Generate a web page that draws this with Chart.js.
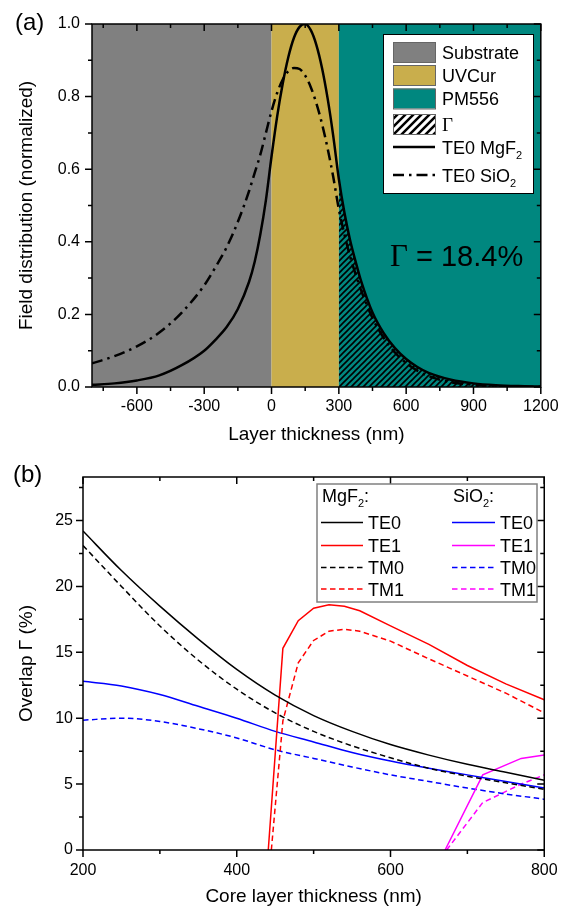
<!DOCTYPE html>
<html>
<head>
<meta charset="utf-8">
<script src="https://cdn.jsdelivr.net/npm/chart.js@4.4.1/dist/chart.umd.min.js"></script>
<style>
  html, body { margin: 0; padding: 0; background: #fff; }
  #wrap { position: relative; width: 569px; height: 907px; }
  #wrap canvas { position: absolute; left: 0; }
</style>
</head>
<body>
<div id="wrap">
  <canvas id="chartA" width="569" height="455" style="top:0"></canvas>
  <canvas id="chartB" width="569" height="452" style="top:455px"></canvas>
</div>
<script>
// ---- panel (a): field profile ----
var layerX = [-800, -700, -600, -500, -400, -300, -250, -200, -150, -100, -75, -50, -25, 0,
              25, 50, 75, 100, 125, 150, 175, 200, 225, 250, 275, 300,
              325, 350, 375, 400, 450, 500, 550, 600, 650, 700, 800, 900, 1000, 1100, 1200];
var fieldMgF2 = [0.006, 0.010, 0.018, 0.032, 0.060, 0.100, 0.130, 0.165, 0.215, 0.290, 0.345, 0.420, 0.515, 0.635,
                 0.745, 0.836, 0.909, 0.962, 0.992, 1.000, 0.983, 0.942, 0.879, 0.795, 0.692, 0.573,
                 0.480, 0.405, 0.345, 0.290, 0.205, 0.148, 0.107, 0.077, 0.055, 0.039, 0.020, 0.010, 0.005, 0.0025, 0.0012];
var fieldSiO2 = [0.065, 0.085, 0.112, 0.150, 0.205, 0.280, 0.330, 0.385, 0.455, 0.540, 0.590, 0.640, 0.700, 0.760,
                 0.810, 0.847, 0.870, 0.879, 0.876, 0.858, 0.826, 0.781, 0.725, 0.657, 0.579, 0.490,
                 0.420, 0.360, 0.310, 0.265, 0.190, 0.135, 0.095, 0.066, 0.045, 0.030, 0.013, 0.006, 0.0025, 0.001, 0.0005];
var layerEdges = [-800, 0, 300, 1200];
var layerNames = ['Substrate', 'UVCur', 'PM556'];
var layerColors = ['#808080', '#C9AE4C', '#00877F'];
var overlapText = '= 18.4%';
var xTicksA = [-600, -300, 0, 300, 600, 900, 1200];
var xMinorA = [-750, -450, -150, 150, 450, 750, 1050];
var yTicksA = [0, 0.2, 0.4, 0.6, 0.8, 1.0];
var yMinorA = [0.1, 0.3, 0.5, 0.7, 0.9];

// ---- panel (b): overlap vs core thickness ----
var coreX = [200, 250, 300, 350, 400, 450, 500, 550, 600, 650, 700, 750, 800];
var te0MgF2 = [24.2, 21.2, 18.5, 16.0, 13.7, 11.75, 10.2, 9.0, 8.0, 7.2, 6.5, 5.9, 5.3];
var tm0MgF2 = [23.1, 20.0, 17.0, 14.4, 12.2, 10.4, 9.0, 7.9, 7.0, 6.2, 5.6, 5.1, 4.6];
var te0SiO2 = [12.8, 12.45, 11.8, 10.9, 10.0, 9.0, 8.2, 7.4, 6.75, 6.2, 5.7, 5.2, 4.7];
var tm0SiO2 = [9.85, 10.0, 9.75, 9.2, 8.5, 7.6, 6.95, 6.3, 5.7, 5.2, 4.7, 4.25, 3.85];
var te1MgF2X = [441, 460, 480, 500, 520, 540, 560, 600, 650, 700, 750, 800];
var te1MgF2 = [0, 15.3, 17.4, 18.35, 18.6, 18.5, 18.15, 17.0, 15.6, 14.0, 12.6, 11.4];
var tm1MgF2X = [445, 460, 480, 500, 520, 540, 560, 600, 650, 700, 750, 800];
var tm1MgF2 = [0, 9.8, 14.2, 15.9, 16.6, 16.75, 16.6, 15.85, 14.5, 13.2, 11.9, 10.4];
var te1SiO2X = [671, 720, 770, 800];
var te1SiO2 = [0, 5.7, 6.95, 7.2];
var tm1SiO2X = [673, 720, 770, 800];
var tm1SiO2 = [0, 3.6, 5.0, 5.7];
var xTicksB = [200, 400, 600, 800];
var xMinorB = [300, 500, 700];
var yTicksB = [0, 5, 10, 15, 20, 25];
var yMinorB = [2.5, 7.5, 12.5, 17.5, 22.5, 27.5];

var SANS = '"Liberation Sans", Arial, sans-serif';
var SERIF = '"Liberation Serif", "Times New Roman", serif';
Chart.defaults.font.family = SANS;
Chart.defaults.color = '#000';

function pts(xs, ys) {
    return xs.map(function(x, i) { return {x: x, y: ys[i]}; });
}

function hatch(bg, gap, lw) {
    var c = document.createElement('canvas');
    c.width = gap; c.height = gap;
    var g = c.getContext('2d');
    if (bg) { g.fillStyle = bg; g.fillRect(0, 0, gap, gap); }
    g.strokeStyle = '#000';
    g.lineWidth = lw;
    g.beginPath();
    g.moveTo(-1, gap + 1); g.lineTo(gap + 1, -1);
    g.moveTo(-2, 2); g.lineTo(2, -2);
    g.moveTo(gap - 2, gap + 2); g.lineTo(gap + 2, gap - 2);
    g.stroke();
    return document.createElement('canvas').getContext('2d').createPattern(c, 'repeat');
}

// text with subscripts: parts = [[text, isSub, family], ...]
function textRun(ctx, x, y, parts, size, family) {
    ctx.textAlign = 'left';
    ctx.textBaseline = 'alphabetic';
    parts.forEach(function(p) {
        var s = p[1] ? Math.round(size * 0.62) : size;
        ctx.font = s + 'px ' + (p[2] || family || SANS);
        ctx.fillText(p[0], x, p[1] ? y + size * 0.3 : y);
        x += ctx.measureText(p[0]).width;
    });
    return x;
}

function sampleLine(ctx, x1, x2, y, color, width, dash) {
    ctx.save();
    ctx.strokeStyle = color;
    ctx.lineWidth = width;
    ctx.setLineDash(dash || []);
    ctx.beginPath();
    ctx.moveTo(x1, y); ctx.lineTo(x2, y);
    ctx.stroke();
    ctx.restore();
}

// frame round the plot area, with ticks out on bottom/left and in on top/right
var frameTicks = {
    id: 'frameTicks',
    afterDatasetsDraw: function(chart, args, o) {
        var ctx = chart.ctx, a = chart.chartArea;
        var sx = chart.scales.x, sy = chart.scales.y;
        ctx.save();
        ctx.strokeStyle = '#000';
        ctx.lineWidth = 1.5;
        ctx.beginPath();
        function xt(list, len) {
            list.forEach(function(v) {
                var p = sx.getPixelForValue(v);
                ctx.moveTo(p, a.bottom); ctx.lineTo(p, a.bottom + len);
                ctx.moveTo(p, a.top); ctx.lineTo(p, a.top + len);
            });
        }
        function yt(list, len) {
            list.forEach(function(v) {
                var p = sy.getPixelForValue(v);
                ctx.moveTo(a.left, p); ctx.lineTo(a.left - len, p);
                ctx.moveTo(a.right, p); ctx.lineTo(a.right - len, p);
            });
        }
        xt(o.xMajor, 7); xt(o.xMinor, 4);
        yt(o.yMajor, 7); yt(o.yMinor, 4);
        ctx.stroke();
        ctx.strokeRect(a.left, a.top, a.right - a.left, a.bottom - a.top);
        ctx.restore();
    }
};

var layerBands = {
    id: 'layerBands',
    beforeDatasetsDraw: function(chart) {
        var ctx = chart.ctx, a = chart.chartArea, sx = chart.scales.x;
        ctx.save();
        for (var i = 0; i < layerNames.length; i++) {
            var x1 = sx.getPixelForValue(layerEdges[i]);
            var x2 = sx.getPixelForValue(layerEdges[i + 1]);
            ctx.fillStyle = layerColors[i];
            ctx.fillRect(x1, a.top, x2 - x1, a.bottom - a.top);
        }
        ctx.restore();
    }
};

var swatchHatch = hatch('#fff', 8, 2.5);
var plotHatch = hatch(null, 6, 1.6);

var overlayA = {
    id: 'overlayA',
    afterDraw: function(chart) {
        var ctx = chart.ctx;
        ctx.save();
        ctx.fillStyle = '#000';
        textRun(ctx, 15, 30, [['(a)', false]], 24);

        // Gamma value
        textRun(ctx, 390, 266, [['\u0393', false, SERIF]], 31);
        ctx.font = '29px ' + SANS;
        ctx.fillText(overlapText, 416, 266);

        // legend
        ctx.fillStyle = '#fff';
        ctx.fillRect(383, 34, 150, 159);
        ctx.strokeStyle = '#000';
        ctx.lineWidth = 1;
        ctx.strokeRect(383.5, 34.5, 150, 159);
        var rows = [52, 75, 98.5, 124];
        for (var i = 0; i < 4; i++) {
            ctx.fillStyle = i < 3 ? layerColors[i] : swatchHatch;
            ctx.fillRect(393, rows[i] - 10, 42, 20);
            ctx.strokeStyle = '#666';
            ctx.strokeRect(393.5, rows[i] - 9.5, 42, 20);
            ctx.fillStyle = '#000';
            if (i < 3) textRun(ctx, 442, rows[i] + 6.5, [[layerNames[i], false]], 18);
            else textRun(ctx, 442, rows[i] + 7, [['\u0393', false, SERIF]], 19);
        }
        sampleLine(ctx, 393, 435, 147, '#000', 2.5);
        sampleLine(ctx, 393, 435, 175, '#000', 2.5, [11, 5, 2.5, 5]);
        ctx.fillStyle = '#000';
        textRun(ctx, 442, 153.5, [['TE0 MgF', false], ['2', true]], 18);
        textRun(ctx, 442, 181.5, [['TE0 SiO', false], ['2', true]], 18);
        ctx.restore();
    }
};

var mgPts = pts(layerX, fieldMgF2);
var siPts = pts(layerX, fieldSiO2);

new Chart(document.getElementById('chartA'), {
    type: 'line',
    data: {
        datasets: [
            {label: 'TE0 MgF2', data: mgPts, borderColor: '#000', borderWidth: 2.5,
             pointRadius: 0, cubicInterpolationMode: 'monotone', fill: false},
            {label: 'TE0 SiO2', data: siPts, borderColor: '#000', borderWidth: 2.5,
             borderDash: [11, 5, 2.5, 5], pointRadius: 0, cubicInterpolationMode: 'monotone', fill: false},
            {label: '\u0393', data: mgPts.filter(function(p) { return p.x >= 300; }),
             borderWidth: 0, borderColor: 'rgba(0,0,0,0)', pointRadius: 0,
             cubicInterpolationMode: 'monotone', fill: 'origin', backgroundColor: plotHatch}
        ]
    },
    options: {
        responsive: false,
        animation: false,
        events: [],
        layout: {padding: {top: 24, right: 27, left: 0, bottom: 0}},
        plugins: {
            legend: {display: false},
            tooltip: {enabled: false},
            frameTicks: {xMajor: xTicksA, xMinor: xMinorA, yMajor: yTicksA, yMinor: yMinorA}
        },
        scales: {
            x: {
                type: 'linear', min: -800, max: 1200,
                afterBuildTicks: function(s) { s.ticks = xTicksA.map(function(v) { return {value: v}; }); },
                afterFit: function(s) { s.height = 68; },
                grid: {display: false, drawTicks: false},
                border: {display: false},
                ticks: {padding: 10.4, font: {size: 16}, maxRotation: 0, autoSkip: false,
                        callback: function(v) { return String(v); }},
                title: {display: true, text: 'Layer thickness (nm)', font: {size: 19, lineHeight: 1},
                        padding: {top: 0, bottom: 10.5}}
            },
            y: {
                type: 'linear', min: 0, max: 1,
                afterBuildTicks: function(s) { s.ticks = yTicksA.map(function(v) { return {value: v}; }); },
                afterFit: function(s) { s.width = 92; },
                grid: {display: false, drawTicks: false},
                border: {display: false},
                ticks: {padding: 12, font: {size: 16}, callback: function(v) { return v.toFixed(1); }},
                title: {display: true, text: 'Field distribution (normalized)', font: {size: 19, lineHeight: 1},
                        padding: {top: 17.5, bottom: 0}}
            }
        }
    },
    plugins: [layerBands, frameTicks, overlayA]
});

// ---- panel (b) ----
var overlayB = {
    id: 'overlayB',
    afterDraw: function(chart) {
        var ctx = chart.ctx;
        ctx.save();
        ctx.fillStyle = '#000';
        textRun(ctx, 13, 27, [['(b)', false]], 24);

        ctx.fillStyle = '#fff';
        ctx.fillRect(317, 29, 220, 118);
        ctx.strokeStyle = '#808080';
        ctx.lineWidth = 1.5;
        ctx.strokeRect(317, 29, 220, 118);

        ctx.fillStyle = '#000';
        textRun(ctx, 322, 46.5, [['MgF', false], ['2', true], [':', false]], 18);
        textRun(ctx, 453, 46.5, [['SiO', false], ['2', true], [':', false]], 18);
        var rows = [67.5, 90.5, 112.5, 134];
        var names = ['TE0', 'TE1', 'TM0', 'TM1'];
        var mgCol = ['#000', '#FF0000', '#000', '#FF0000'];
        var siCol = ['#0000FF', '#FF00FF', '#0000FF', '#FF00FF'];
        for (var i = 0; i < 4; i++) {
            var dash = i >= 2 ? [5.5, 3.5] : [];
            sampleLine(ctx, 321, 363, rows[i], mgCol[i], 1.5, dash);
            sampleLine(ctx, 452, 495, rows[i], siCol[i], 1.5, dash);
            ctx.fillStyle = '#000';
            textRun(ctx, 368, rows[i] + 6.5, [[names[i], false]], 18);
            textRun(ctx, 500, rows[i] + 6.5, [[names[i], false]], 18);
        }
        ctx.restore();
    }
};

function lineSet(label, data, color, dashed, smooth) {
    return {label: label, data: data, borderColor: color, borderWidth: 1.5,
            borderDash: dashed ? [5.5, 3.5] : [], pointRadius: 0, fill: false,
            cubicInterpolationMode: smooth ? 'monotone' : 'default', tension: 0};
}

new Chart(document.getElementById('chartB'), {
    type: 'line',
    data: {
        datasets: [
            lineSet('TE0 MgF2', pts(coreX, te0MgF2), '#000', false, true),
            lineSet('TE1 MgF2', pts(te1MgF2X, te1MgF2), '#FF0000', false, false),
            lineSet('TM0 MgF2', pts(coreX, tm0MgF2), '#000', true, true),
            lineSet('TM1 MgF2', pts(tm1MgF2X, tm1MgF2), '#FF0000', true, false),
            lineSet('TE0 SiO2', pts(coreX, te0SiO2), '#0000FF', false, true),
            lineSet('TE1 SiO2', pts(te1SiO2X, te1SiO2), '#FF00FF', false, false),
            lineSet('TM0 SiO2', pts(coreX, tm0SiO2), '#0000FF', true, true),
            lineSet('TM1 SiO2', pts(tm1SiO2X, tm1SiO2), '#FF00FF', true, false)
        ]
    },
    options: {
        responsive: false,
        animation: false,
        events: [],
        layout: {padding: {top: 22, right: 23, left: 0, bottom: 0}},
        plugins: {
            legend: {display: false},
            tooltip: {enabled: false},
            frameTicks: {xMajor: xTicksB, xMinor: xMinorB, yMajor: yTicksB, yMinor: yMinorB}
        },
        scales: {
            x: {
                type: 'linear', min: 200, max: 800,
                afterBuildTicks: function(s) { s.ticks = xTicksB.map(function(v) { return {value: v}; }); },
                afterFit: function(s) { s.height = 57; },
                grid: {display: false, drawTicks: false},
                border: {display: false},
                ticks: {padding: 11.4, font: {size: 16}, maxRotation: 0, autoSkip: false,
                        callback: function(v) { return String(v); }},
                title: {display: true, text: 'Core layer thickness (nm)', font: {size: 19, lineHeight: 1},
                        padding: {top: 0, bottom: 0.5}}
            },
            y: {
                type: 'linear', min: 0, max: 28.3,
                afterBuildTicks: function(s) { s.ticks = yTicksB.map(function(v) { return {value: v}; }); },
                afterFit: function(s) { s.width = 83; },
                grid: {display: false, drawTicks: false},
                border: {display: false},
                ticks: {padding: 10, font: {size: 16}, callback: function(v) { return String(v); }},
                title: {display: true, text: 'Overlap \u0393 (%)', font: {size: 19, lineHeight: 1},
                        padding: {top: 17.5, bottom: 0}}
            }
        }
    },
    plugins: [frameTicks, overlayB]
});
</script>
</body>
</html>
